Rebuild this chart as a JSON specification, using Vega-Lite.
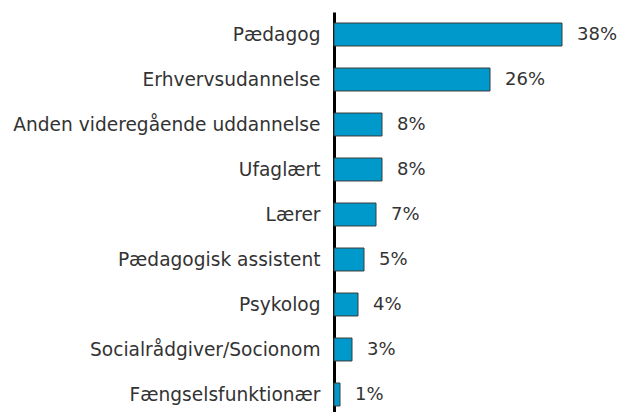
{
  "$schema": "https://vega.github.io/schema/vega-lite/v6.json",
  "autosize": "none",
  "padding": {"left": 334, "top": 12, "right": 0, "bottom": 0},
  "width": 285,
  "height": 405,
  "background": "white",
  "config": {"view": {"stroke": null}, "font": "DejaVu Sans"},
  "data": {"values": [
    {"cat": "Pædagog", "v": 0.38},
    {"cat": "Erhvervsudannelse\u00a0", "v": 0.26},
    {"cat": "Anden videregående uddannelse", "v": 0.08},
    {"cat": "Ufaglært\u00a0", "v": 0.08},
    {"cat": "Lærer", "v": 0.07},
    {"cat": "Pædagogisk assistent", "v": 0.05},
    {"cat": "Psykolog", "v": 0.04},
    {"cat": "Socialrådgiver/Socionom", "v": 0.03},
    {"cat": "Fængselsfunktionær", "v": 0.01}
  ]},
  "encoding": {
    "y": {"field": "cat", "type": "nominal", "sort": null,
      "scale": {"paddingInner": 0.49, "paddingOuter": 0.245},
      "axis": {"title": null, "ticks": false, "domainColor": "black", "domainWidth": 3,
        "labelFont": "DejaVu Sans", "labelFontSize": 18.6, "labelColor": "#333333", "labelPadding": 14, "labelLimit": 400}},
    "x": {"field": "v", "type": "quantitative", "scale": {"domain": [0, 0.475]}, "axis": null}
  },
  "layer": [
    {"mark": {"type": "bar", "color": "#0099CC", "stroke": "#3a3a3a", "strokeWidth": 1}},
    {"mark": {"type": "text", "align": "left", "dx": 15, "font": "DejaVu Sans", "fontSize": 18, "color": "#333333"},
     "encoding": {"text": {"field": "v", "type": "quantitative", "format": ".0%"}}}
  ]
}
